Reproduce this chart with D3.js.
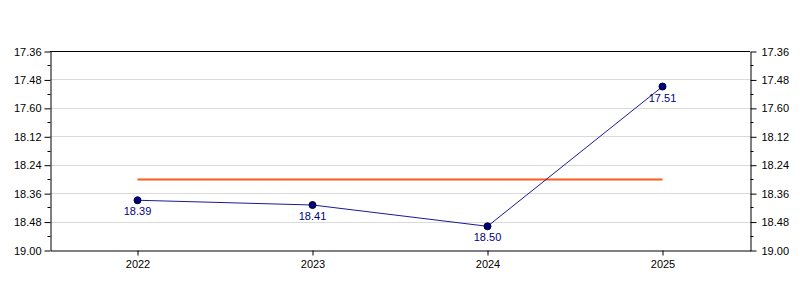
<!DOCTYPE html>
<html>
<head>
<meta charset="utf-8">
<script src="https://cdn.jsdelivr.net/npm/d3@7"></script>
<style>
  body { margin: 0; background: #fff; }
  svg { display: block; font-family: "Liberation Sans", Arial, sans-serif; }
  .grid line { stroke: #d9d9d9; }
  .axis text { font-size: 11px; fill: #000; }
  .axis path, .axis line { stroke: #000; }
  .pt-label { font-size: 11px; fill: #000080; }
</style>
</head>
<body>
<svg id="chart" width="800" height="300"></svg>
<script>
// times are minute.second results, kept as seconds
const years = ["2022", "2023", "2024", "2025"];
const seconds = [1119, 1121, 1130, 1071];
const pointLabels = ["18.39", "18.41", "18.50", "17.51"];
const yTicks = [1056, 1068, 1080, 1092, 1104, 1116, 1128, 1140];
const yTickLabels = ["17.36", "17.48", "17.60", "18.12", "18.24", "18.36", "18.48", "19.00"];
const yMinor = [1062, 1074, 1086, 1098, 1110, 1122, 1134];

const W = 800, H = 300, M = { t: 51, r: 50, b: 50, l: 50 };
const svg = d3.select("#chart");

const x = d3.scaleBand().domain(years).range([M.l, W - M.r]);
const y = d3.scaleLinear().domain([1056, 1140]).range([M.t, H - M.b]);
const cx = (d) => x(d) + x.bandwidth() / 2;
const labelOf = (v) => yTickLabels[yTicks.indexOf(v)];

// gridlines
svg.append("g").attr("class", "grid")
  .selectAll("line").data(yTicks.slice(1, -1)).join("line")
  .attr("x1", M.l).attr("x2", W - M.r)
  .attr("y1", (d) => Math.round(y(d)) + 0.5).attr("y2", (d) => Math.round(y(d)) + 0.5);

// frame top/bottom
svg.append("line").attr("x1", M.l).attr("x2", W - M.r)
  .attr("y1", M.t + 0.5).attr("y2", M.t + 0.5).attr("stroke", "#000");

// minor ticks on both sides
[[M.l, -3], [W - M.r, 3]].forEach(([x0, len]) => {
  svg.append("g").selectAll("line").data(yMinor).join("line")
    .attr("x1", x0 + 0.5).attr("x2", x0 + 0.5 + len)
    .attr("y1", (d) => Math.round(y(d)) + 0.5).attr("y2", (d) => Math.round(y(d)) + 0.5)
    .attr("stroke", "#000");
});

svg.append("g").attr("class", "axis")
  .attr("transform", `translate(${M.l + 0.5},0.5)`)
  .call(d3.axisLeft(y).tickValues(yTicks).tickFormat(labelOf).tickSize(6).tickSizeOuter(0).tickPadding(3));

svg.append("g").attr("class", "axis")
  .attr("transform", `translate(${W - M.r + 0.5},0.5)`)
  .call(d3.axisRight(y).tickValues(yTicks).tickFormat(labelOf).tickSize(6).tickSizeOuter(0).tickPadding(5));

svg.append("g").attr("class", "axis")
  .attr("transform", `translate(0.5,${H - M.b + 0.5})`)
  .call(d3.axisBottom(x).tickSize(5).tickSizeOuter(0).tickPadding(5))
  .call((g) => g.selectAll(".tick text").attr("font-size", 11));

// average line
const avg = d3.mean(seconds);
svg.append("line")
  .attr("x1", cx(years[0])).attr("x2", cx(years[years.length - 1]))
  .attr("y1", y(avg)).attr("y2", y(avg))
  .attr("stroke", "#ff5a1f").attr("stroke-width", 2);

// series
const pts = years.map((yr, i) => ({ yr, v: seconds[i], lab: pointLabels[i] }));
svg.append("path").datum(pts)
  .attr("fill", "none").attr("stroke", "#1a1a99").attr("stroke-width", 1)
  .attr("d", d3.line().x((d) => cx(d.yr)).y((d) => y(d.v)));

svg.append("g").selectAll("circle").data(pts).join("circle")
  .attr("cx", (d) => cx(d.yr)).attr("cy", (d) => y(d.v)).attr("r", 3.5)
  .attr("fill", "#000080").attr("stroke", "#000033").attr("stroke-width", 1);

svg.append("g").selectAll("text").data(pts).join("text")
  .attr("class", "pt-label")
  .attr("x", (d) => cx(d.yr)).attr("y", (d) => y(d.v) + 15)
  .attr("text-anchor", "middle")
  .text((d) => d.lab);
</script>
</body>
</html>
